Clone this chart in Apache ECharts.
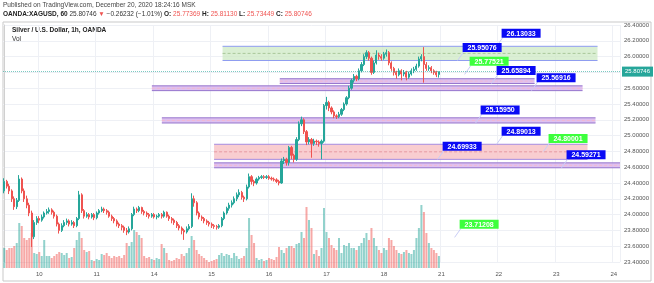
<!DOCTYPE html>
<html><head><meta charset="utf-8">
<script src="https://cdn.jsdelivr.net/npm/echarts@6/dist/echarts.min.js"></script>
<style>html,body{margin:0;padding:0;background:#fff}#c{width:654px;height:283px}</style>
</head><body><div id="c"></div><script>
// ---- data ----
const dayLabels = ['9','10','11','14','15','16','17','18','21','22','23','24'];
const barsPerDay = [14,23,23,23,23,23,23,23,23,23,23,3];
// [open, close, low, high]
const candles = [
[24.30,24.42,24.27,24.46],[24.42,24.36,24.33,24.44],[24.36,24.30,24.26,24.39],[24.30,24.20,24.16,24.32],[24.20,24.10,24.06,24.23],
[24.10,24.18,24.07,24.21],[24.18,24.45,24.16,24.50],[24.45,24.30,24.27,24.47],[24.30,24.20,24.16,24.33],[24.20,24.12,24.08,24.24],
[24.12,24.02,23.98,24.15],[24.02,23.72,23.59,24.05],[23.72,23.90,23.69,23.93],[23.90,23.95,23.87,23.98],[23.95,23.93,23.89,23.98],
[23.93,23.97,23.91,24.00],[23.97,24.02,23.95,24.04],[24.02,24.04,24.00,24.07],[24.04,24.06,24.01,24.09],[24.06,24.03,24.00,24.08],
[24.03,23.98,23.95,24.05],[23.98,23.88,23.85,24.00],[23.88,23.80,23.76,23.90],[23.80,23.86,23.78,23.89],[23.86,23.90,23.84,23.93],
[23.90,23.92,23.87,23.95],[23.92,23.88,23.85,23.94],[23.88,23.90,23.86,23.93],[23.90,23.86,23.83,23.92],[23.86,23.95,23.84,23.97],
[23.95,24.25,23.93,24.30],[24.25,24.05,24.02,24.27],[24.05,23.98,23.95,24.07],[23.98,24.00,23.96,24.03],[24.00,23.97,23.94,24.02],
[23.97,24.00,23.95,24.02],[24.00,23.96,23.93,24.02],[23.96,24.02,23.94,24.04],[24.02,24.05,24.00,24.07],[24.05,24.07,24.03,24.10],
[24.07,24.05,24.02,24.09],[24.05,24.03,24.00,24.07],[24.03,23.98,23.96,24.05],[23.98,23.95,23.92,24.00],[23.95,23.92,23.89,23.97],
[23.92,23.88,23.85,23.94],[23.88,23.86,23.83,23.90],[23.86,23.84,23.80,23.88],[23.84,23.80,23.77,23.86],[23.80,23.78,23.74,23.83],
[23.78,23.82,23.76,23.85],[23.82,24.00,23.80,24.02],[24.00,24.07,23.98,24.10],[24.07,24.05,24.02,24.09],[24.05,24.09,24.03,24.11],
[24.09,24.04,24.01,24.10],[24.04,24.02,23.99,24.06],[24.02,24.00,23.97,24.04],[24.00,23.98,23.95,24.02],[23.98,24.00,23.96,24.02],
[24.00,23.97,23.95,24.02],[23.97,23.98,23.94,24.00],[23.98,24.00,23.96,24.02],[24.00,23.98,23.95,24.02],[23.98,24.03,23.96,24.05],
[24.03,23.98,23.96,24.04],[23.98,23.95,23.92,24.00],[23.95,23.93,23.89,23.97],[23.93,23.90,23.87,23.95],[23.90,23.86,23.83,23.92],
[23.86,23.83,23.80,23.88],[23.83,23.80,23.75,23.85],[23.80,23.78,23.68,23.82],[23.78,23.82,23.76,23.85],[23.82,23.85,23.80,23.88],
[23.85,24.20,23.83,24.27],[24.20,24.15,24.10,24.24],[24.15,24.02,23.99,24.17],[24.02,23.97,23.94,24.04],[23.97,23.95,23.92,23.99],
[23.95,23.92,23.89,23.97],[23.92,23.90,23.87,23.94],[23.90,23.88,23.85,23.92],[23.88,23.86,23.83,23.90],[23.86,23.85,23.82,23.88],
[23.85,23.84,23.81,23.87],[23.84,23.86,23.82,23.88],[23.86,23.95,23.84,23.97],[23.95,24.02,23.93,24.04],[24.02,24.08,24.00,24.10],
[24.08,24.12,24.05,24.15],[24.12,24.15,24.09,24.18],[24.15,24.20,24.13,24.23],[24.20,24.25,24.17,24.28],[24.25,24.28,24.22,24.32],
[24.28,24.22,24.19,24.30],[24.22,24.20,24.16,24.24],[24.20,24.35,24.18,24.38],[24.35,24.48,24.33,24.52],[24.48,24.42,24.38,24.50],
[24.42,24.40,24.36,24.44],[24.40,24.45,24.38,24.47],[24.45,24.47,24.43,24.49],[24.47,24.48,24.45,24.50],[24.48,24.47,24.45,24.50],
[24.47,24.48,24.45,24.50],[24.48,24.46,24.44,24.50],[24.46,24.45,24.43,24.48],[24.45,24.44,24.42,24.47],[24.44,24.42,24.40,24.46],
[24.42,24.40,24.37,24.44],[24.40,24.68,24.39,24.71],[24.68,24.70,24.64,24.73],[24.70,24.66,24.62,24.72],[24.66,24.85,24.62,24.87],
[24.85,24.75,24.70,24.87],[24.75,24.70,24.66,24.77],[24.70,24.95,24.68,24.98],[24.95,25.15,24.93,25.18],[25.15,25.20,25.12,25.24],
[25.20,25.05,25.02,25.22],[25.05,24.92,24.88,25.07],[24.92,24.95,24.89,24.98],[24.95,24.90,24.72,24.97],[24.90,24.93,24.87,24.96],
[24.93,24.92,24.88,24.95],[24.92,24.90,24.86,24.94],[24.90,24.93,24.70,24.95],[24.93,25.38,24.91,25.40],[25.38,25.42,25.33,25.49],
[25.42,25.35,25.31,25.44],[25.35,25.30,25.27,25.37],[25.30,25.25,25.22,25.32],[25.25,25.24,25.21,25.27],[25.24,25.27,25.22,25.30],
[25.27,25.33,25.25,25.35],[25.33,25.40,25.31,25.42],[25.40,25.48,25.38,25.50],[25.48,25.60,25.46,25.63],[25.60,25.70,25.58,25.72],
[25.70,25.75,25.67,25.78],[25.75,25.72,25.69,25.77],[25.72,25.82,25.70,25.85],[25.82,25.90,25.80,25.93],[25.90,26.00,25.88,26.03],
[26.00,26.05,25.97,26.08],[26.05,25.98,25.95,26.07],[25.98,25.80,25.77,26.00],[25.80,25.92,25.78,25.95],[25.92,26.02,25.90,26.08],
[26.02,26.00,25.96,26.05],[26.00,25.98,25.95,26.03],[25.98,26.03,25.96,26.06],[26.03,26.05,26.00,26.09],[26.05,25.92,25.89,26.07],
[25.92,25.85,25.82,25.94],[25.85,25.80,25.76,25.87],[25.80,25.77,25.72,25.82],[25.77,25.82,25.75,25.85],[25.82,25.78,25.70,25.84],
[25.78,25.80,25.75,25.83],[25.80,25.74,25.70,25.82],[25.74,25.78,25.72,25.81],[25.78,25.82,25.76,25.85],[25.82,25.84,25.79,25.87],
[25.84,25.88,25.82,25.91],[25.88,25.97,25.86,26.00],[25.97,26.00,25.94,26.03],[26.00,25.90,25.67,26.12],[25.90,25.85,25.82,25.93],
[25.85,25.86,25.82,25.89],[25.86,25.82,25.79,25.88],[25.82,25.80,25.77,25.84],[25.80,25.77,25.74,25.82],[25.77369,25.80746,25.73449,25.8113]
];
const volumes = [
20,18,20,20,22,25,45,42,30,28,30,35,15,14,16,12,28,12,12,10,
12,14,16,15,13,15,10,11,20,28,36,30,18,16,17,8,7,9,8,14,
13,15,12,10,12,11,12,10,13,25,22,26,38,36,33,30,12,10,11,9,
8,10,9,24,20,15,8,7,8,10,9,14,12,15,20,32,28,18,14,12,
10,8,6,7,8,9,13,15,12,14,13,10,15,12,9,10,12,20,50,33,
25,10,8,9,7,8,10,9,8,11,21,18,15,20,22,22,20,24,25,36,
30,61,48,40,14,18,12,20,60,36,30,23,20,18,30,15,23,22,25,20,
20,18,22,25,30,35,28,40,30,22,18,15,20,18,30,28,22,18,15,14,
16,18,15,14,18,30,40,63,56,35,25,20,18,15,12
];
const lastPrice = 25.80746;
// zones
const zoneStart = [87.4, 110.3, 59.1, 63.1, 84.0, 84.0];
const zoneEnd   = [237.5, 212.3, 231.5, 236.7, 233.5, 246.5];
const zoneTop   = [26.13033, 25.72, 25.63, 25.225, 24.89013, 24.655];
const zoneBot   = [25.95076, 25.65894, 25.56916, 25.1595, 24.69933, 24.59271];
const zoneKind  = [0, 1, 1, 1, 2, 1];
// callouts
const calloutPrice = [26.13033, 25.95076, 25.77521, 25.65894, 25.56916, 25.15950, 24.89013, 24.80001, 24.69933, 24.59271, 23.71208];
const calloutBar   = [197.1, 181.5, 184.3, 195.1, 211.1, 188.7, 197.1, 215.9, 173.5, 223.1, 180.3];
const calloutKind  = [0, 0, 1, 0, 0, 0, 0, 1, 0, 0, 1];

// ---- build ----
const cats = [];
dayLabels.forEach((d, di) => { for (let k = 0; k < barsPerDay[di]; k++) cats.push(d + '-' + k); });
const N = cats.length;
const isDayStart = (idx, val) => idx > 0 && /-0$/.test(val);
const UP = '#26a69a', DN = '#ef5350';
const zoneStyles = [
  {fill: 'rgba(206,234,196,0.75)', border: '#8e9cf0', mid: '#a9c79a'},
  {fill: 'rgba(214,178,236,0.8)', border: '#9575cd', mid: '#f2b8cf'},
  {fill: 'rgba(248,196,200,0.85)', border: '#a58be0', mid: '#e79aa2'}
];
const zoneData = zoneStart.map((s, i) => [s, zoneEnd[i], zoneTop[i], zoneBot[i], zoneKind[i]]);
const calloutData = calloutPrice.map((p, i) => [calloutBar[i], p, calloutKind[i]]);
const volData = volumes.map((v, i) => ({
  value: v,
  itemStyle: {color: candles[i][1] >= candles[i][0] ? 'rgba(38,166,154,0.5)' : 'rgba(239,83,80,0.5)'}
}));
const FONT = 'Liberation Sans, Arial, sans-serif';

const chart = echarts.init(document.getElementById('c'), null, {renderer: 'canvas'});
chart.setOption({
  animation: false,
  backgroundColor: '#fff',
  graphic: [
    {type: 'rect', z: -10, shape: {x: 3, y: 22, width: 648, height: 259}, style: {fill: 'none', stroke: '#c9c9c9', lineWidth: 1}},
    {type: 'text', left: 3, top: 2, style: {text: 'Published on TradingView.com, December 20, 2020 18:24:16 MSK', fontSize: 6.5, fontFamily: FONT, fill: '#444'}},
    {type: 'text', left: 3, top: 11, style: {
      text: '{b|OANDA:XAGUSD, 60} {n|25.80746} {r|▼} {n|−0.26232 (−1.01%)} {b|O:} {r|25.77369} {b|H:} {r|25.81130} {b|L:} {r|25.73449} {b|C:} {r|25.80746}',
      fontSize: 6.5, fontFamily: FONT,
      rich: {b: {fontWeight: 'bold', fill: '#222', fontSize: 6.5, fontFamily: FONT}, n: {fill: '#333', fontSize: 6.5, fontFamily: FONT}, r: {fill: '#ef5350', fontSize: 6.5, fontFamily: FONT}}
    }},
    {type: 'text', left: 12, top: 27, style: {text: 'Silver / U.S. Dollar, 1h, OANDA', fontSize: 6.5, fontWeight: 'bold', fontFamily: FONT, fill: '#222'}},
    {type: 'text', left: 12, top: 36, style: {text: 'Vol', fontSize: 6.5, fontFamily: FONT, fill: '#333'}}
  ],
  grid: [
    {left: 3, right: 34, top: 25, bottom: 21},
    {left: 3, right: 34, top: 168, bottom: 15}
  ],
  xAxis: [
    {type: 'category', gridIndex: 0, data: cats, boundaryGap: true,
     axisLine: {show: false}, axisTick: {show: false}, axisLabel: {show: false},
     splitLine: {show: true, interval: isDayStart, lineStyle: {color: '#eef0f5', width: 1}}},
    {type: 'category', gridIndex: 1, data: cats, boundaryGap: true,
     axisLine: {show: false}, axisTick: {show: false},
     axisLabel: {interval: isDayStart, formatter: v => v.split('-')[0], fontSize: 6, color: '#555', margin: 3, fontFamily: FONT},
     splitLine: {show: false}},
    {type: 'value', gridIndex: 0, min: -0.5, max: N - 0.5, show: false}
  ],
  yAxis: [
    {type: 'value', gridIndex: 0, position: 'right', min: 23.4, max: 26.4, interval: 0.2,
     axisLine: {show: true, lineStyle: {color: '#d0d0d0'}}, axisTick: {show: false},
     axisLabel: {formatter: v => v.toFixed(5), fontSize: 6, color: '#555', margin: 4, fontFamily: FONT},
     splitLine: {show: true, lineStyle: {color: '#eef0f5', width: 1}}},
    {type: 'value', gridIndex: 1, min: 0, max: 100, show: false, splitLine: {show: false}}
  ],
  series: [
    {type: 'custom', name: 'zones', xAxisIndex: 2, yAxisIndex: 0, z: 1, data: zoneData, silent: true,
     renderItem: (params, api) => {
       const p0 = api.coord([api.value(0), api.value(2)]);
       const p1 = api.coord([api.value(1), api.value(3)]);
       const st = zoneStyles[api.value(4)];
       const mid = (p0[1] + p1[1]) / 2;
       return {type: 'group', children: [
         {type: 'rect', shape: {x: p0[0], y: p0[1], width: p1[0] - p0[0], height: p1[1] - p0[1]}, style: {fill: st.fill}},
         {type: 'line', shape: {x1: p0[0], y1: p0[1], x2: p1[0], y2: p0[1]}, style: {stroke: st.border, lineWidth: 1}},
         {type: 'line', shape: {x1: p0[0], y1: p1[1], x2: p1[0], y2: p1[1]}, style: {stroke: st.border, lineWidth: 1}},
         {type: 'line', shape: {x1: p0[0], y1: mid, x2: p1[0], y2: mid}, style: {stroke: st.mid, lineWidth: 1, lineDash: [3, 2]}}
       ]};
     }},
    {type: 'bar', name: 'Vol', xAxisIndex: 1, yAxisIndex: 1, data: volData, barWidth: '80%', z: 2, silent: true},
    {type: 'candlestick', name: 'XAGUSD', xAxisIndex: 0, yAxisIndex: 0, data: candles, barWidth: 1.6, z: 3,
     itemStyle: {color: UP, color0: DN, borderColor: UP, borderColor0: DN, borderWidth: 1},
     markLine: {symbol: 'none', silent: true, data: [{yAxis: lastPrice}],
       lineStyle: {color: 'rgba(38,166,154,0.6)', type: 'dotted', width: 1},
       label: {position: 'end', formatter: () => lastPrice.toFixed(5), backgroundColor: '#26a69a', color: '#fff',
               fontSize: 6, padding: [2, 3], fontFamily: FONT, distance: 2}}},
    {type: 'custom', name: 'callouts', xAxisIndex: 2, yAxisIndex: 0, z: 10, data: calloutData, silent: true,
     renderItem: (params, api) => {
       const t = api.coord([api.value(0), api.value(1)]);
       const green = api.value(2) === 1;
       const bx = t[0] + 5, by = t[1] - 17.5, bw = 39, bh = 9;
       return {type: 'group', children: [
         {type: 'line', shape: {x1: t[0], y1: t[1], x2: bx + 1, y2: by + bh}, style: {stroke: '#c9cdf6', lineWidth: 1}},
         {type: 'rect', shape: {x: bx, y: by, width: bw, height: bh}, style: {fill: green ? '#3dff3d' : '#0a0af5'}},
         {type: 'text', style: {x: bx + bw / 2, y: by + bh / 2 + 0.5, text: api.value(1).toFixed(5), fill: '#fff',
           fontSize: 7, fontWeight: 'bold', fontFamily: FONT, align: 'center', verticalAlign: 'middle'}}
       ]};
     }}
  ]
});
</script></body></html>
